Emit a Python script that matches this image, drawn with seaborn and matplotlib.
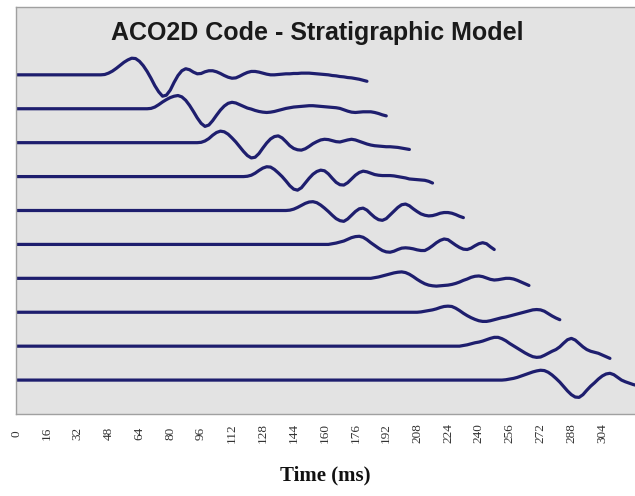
import numpy as np
import pandas as pd
import matplotlib
matplotlib.use("Agg")
import matplotlib.pyplot as plt
import seaborn as sns

# Sampling interval of every trace (ms) and first-arrival time of each trace
STEP_MS = 2
onsets = [44, 68, 92, 116, 138, 160, 182, 206, 228, 250]

# Trace amplitudes from the onset onward (units of trace spacing)
trace_01 = [0, 0.01, 0.05, 0.11, 0.19, 0.28, 0.37, 0.44, 0.49, 0.48, 0.40, 0.27,
            0.10, -0.10, -0.32, -0.50, -0.63, -0.60, -0.45, -0.22, -0.02, 0.12,
            0.18, 0.15, 0.08, 0.03, 0.04, 0.09, 0.12, 0.12, 0.09, 0.04, -0.02,
            -0.07, -0.10, -0.09, -0.04, 0.02, 0.07, 0.10, 0.10, 0.08, 0.05, 0.02,
            0.00, 0.00, 0.01, 0.02, 0.03, 0.03, 0.04, 0.04, 0.05, 0.05, 0.05, 0.04,
            0.03, 0.02, 0.01, 0.00, -0.02, -0.03, -0.05, -0.06, -0.08, -0.09,
            -0.11, -0.13, -0.16, -0.19]
trace_02 = [0, 0.01, 0.05, 0.12, 0.20, 0.27, 0.33, 0.37, 0.39, 0.35, 0.25, 0.10,
            -0.08, -0.27, -0.43, -0.52, -0.48, -0.35, -0.19, -0.04, 0.08, 0.16,
            0.19, 0.17, 0.12, 0.07, 0.02, -0.01, -0.05, -0.08, -0.10, -0.11, -0.10,
            -0.08, -0.05, -0.02, 0.01, 0.03, 0.05, 0.06, 0.07, 0.08, 0.09, 0.09,
            0.08, 0.07, 0.06, 0.05, 0.04, 0.03, 0.01, -0.03, -0.07, -0.10, -0.11,
            -0.10, -0.09, -0.09, -0.09, -0.11, -0.14, -0.18, -0.21]
trace_03 = [0, 0, 0.01, 0.05, 0.12, 0.22, 0.30, 0.34, 0.32, 0.25, 0.14, 0.02,
            -0.12, -0.26, -0.38, -0.45, -0.43, -0.32, -0.16, -0.01, 0.11, 0.18,
            0.20, 0.14, 0.03, -0.09, -0.17, -0.21, -0.22, -0.18, -0.11, -0.03,
            0.03, 0.08, 0.10, 0.09, 0.06, 0.03, 0.02, 0.05, 0.08, 0.10, 0.08, 0.04,
            0.00, -0.04, -0.07, -0.09, -0.10, -0.11, -0.12, -0.12, -0.13, -0.14,
            -0.16, -0.18, -0.20]
trace_04 = [0, 0, 0.01, 0.04, 0.10, 0.18, 0.25, 0.29, 0.28, 0.21, 0.11, 0.00,
            -0.13, -0.27, -0.37, -0.40, -0.33, -0.19, -0.05, 0.07, 0.15, 0.19,
            0.17, 0.08, -0.05, -0.17, -0.24, -0.25, -0.18, -0.07, 0.04, 0.12,
            0.16, 0.14, 0.10, 0.06, 0.04, 0.03, 0.03, 0.03, 0.02, 0.00, -0.02,
            -0.04, -0.07, -0.08, -0.09, -0.10, -0.11, -0.14, -0.19]
trace_05 = [0, 0, 0.01, 0.04, 0.09, 0.15, 0.21, 0.25, 0.26, 0.23, 0.16, 0.07,
            -0.03, -0.14, -0.24, -0.30, -0.32, -0.25, -0.14, -0.03, 0.05, 0.07,
            0.01, -0.10, -0.20, -0.27, -0.29, -0.24, -0.13, -0.02, 0.09, 0.17,
            0.19, 0.14, 0.05, -0.03, -0.10, -0.14, -0.16, -0.15, -0.12, -0.08,
            -0.06, -0.06, -0.08, -0.12, -0.17, -0.21]
trace_06 = [0, 0.00, 0.02, 0.04, 0.07, 0.10, 0.15, 0.20, 0.23, 0.24, 0.21, 0.14,
            0.05, -0.03, -0.11, -0.18, -0.22, -0.23, -0.20, -0.15, -0.11, -0.10,
            -0.11, -0.13, -0.16, -0.18, -0.18, -0.12, -0.04, 0.05, 0.12, 0.16,
            0.14, 0.06, -0.02, -0.09, -0.14, -0.15, -0.11, -0.04, 0.02, 0.05,
            0.02, -0.07, -0.15]
trace_07 = [0, 0, 0.02, 0.04, 0.07, 0.10, 0.13, 0.16, 0.18, 0.19, 0.17, 0.12,
            0.05, -0.03, -0.10, -0.16, -0.20, -0.22, -0.23, -0.22, -0.21, -0.20,
            -0.18, -0.15, -0.11, -0.06, -0.02, 0.03, 0.06, 0.07, 0.05, 0.01,
            -0.03, -0.05, -0.04, -0.02, 0.00, 0.00, -0.02, -0.06, -0.11, -0.16,
            -0.21]
trace_08 = [0, 0, 0.01, 0.03, 0.05, 0.07, 0.10, 0.14, 0.17, 0.18, 0.17, 0.12,
            0.05, -0.03, -0.10, -0.16, -0.21, -0.25, -0.27, -0.27, -0.25, -0.22,
            -0.19, -0.16, -0.14, -0.11, -0.08, -0.05, -0.02, 0.01, 0.04, 0.07,
            0.08, 0.07, 0.03, -0.04, -0.11, -0.17, -0.22]
trace_09 = [0, 0.00, 0.02, 0.04, 0.07, 0.10, 0.12, 0.15, 0.19, 0.23, 0.26, 0.26,
            0.22, 0.16, 0.08, 0.01, -0.06, -0.13, -0.20, -0.26, -0.31, -0.33,
            -0.32, -0.27, -0.21, -0.15, -0.10, -0.02, 0.09, 0.19, 0.23, 0.18,
            0.08, -0.02, -0.10, -0.15, -0.18, -0.21, -0.26, -0.31, -0.36]
trace_10 = [0, 0.00, 0.01, 0.03, 0.05, 0.08, 0.12, 0.16, 0.20, 0.24, 0.27, 0.29,
            0.28, 0.23, 0.15, 0.05, -0.06, -0.19, -0.32, -0.43, -0.50, -0.51,
            -0.43, -0.30, -0.18, -0.08, 0.03, 0.12, 0.18, 0.20, 0.16, 0.08, 0.00,
            -0.05, -0.09, -0.13, -0.16]

traces = [trace_01, trace_02, trace_03, trace_04, trace_05,
          trace_06, trace_07, trace_08, trace_09, trace_10]

tick_values = list(range(0, 305, 16))
tick_labels = [str(v) for v in tick_values]
title_text = "ACO2D Code - Stratigraphic Model"
xlabel_text = "Time (ms)"

# Long-format table: each trace is flat (zero) until its onset, then the wavelet,
# shifted down by one unit per trace
frames = []
for k, (t0, amp) in enumerate(zip(onsets, traces)):
    lead_t = np.arange(0, t0, STEP_MS)
    wave_t = t0 + STEP_MS * np.arange(len(amp))
    frames.append(pd.DataFrame({
        "time": np.concatenate([lead_t, wave_t]),
        "signal": np.concatenate([np.zeros(len(lead_t)), np.asarray(amp)]) - k,
        "trace": k,
    }))
df = pd.concat(frames, ignore_index=True)

sns.set_style("white")
line_color = "#1e1e6e"

fig = plt.figure(figsize=(6.35, 4.96), dpi=100)
fig.patch.set_facecolor("white")
ax = fig.add_axes([16 / 635, 82 / 496, 619 / 635, 407 / 496])

sns.lineplot(data=df, x="time", y="signal", hue="trace",
             palette=[line_color] * len(traces), legend=False,
             estimator=None, sort=False, linewidth=2.3, ax=ax)

ax.set_xlim(0, 321)
ax.set_ylim(-10, 2)
ax.set_facecolor("#e3e3e3")
ax.set_yticks([])
ax.set_ylabel("")

ax.set_xticks(tick_values)
ax.set_xticklabels(tick_labels, rotation=90, va="center", ha="center",
                   family="Liberation Serif", fontsize=9.5, color="#333333")
ax.tick_params(axis="x", length=0, pad=14)

ax.set_xlabel(xlabel_text, family="Liberation Serif", fontweight="bold",
              fontsize=15, color="#111111", labelpad=16)

for side in ("left", "top", "bottom"):
    ax.spines[side].set_color("#a0a0a0")
    ax.spines[side].set_linewidth(1.0)
ax.spines["right"].set_visible(False)

fig.text(317 / 635, 1 - 40 / 496, title_text, ha="center", va="baseline",
         family="Liberation Sans", fontweight="bold", fontsize=18,
         color="#1a1a1a")

fig.savefig("out.png", dpi=100)
